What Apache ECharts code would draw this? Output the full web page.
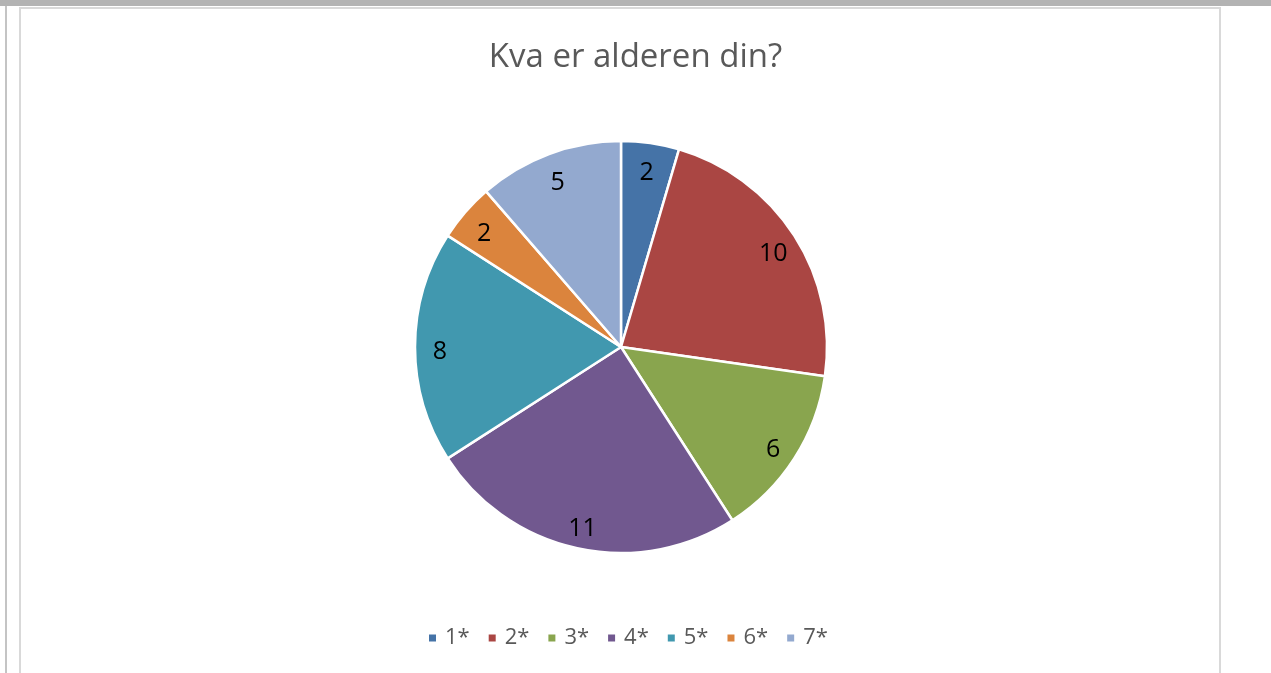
<!DOCTYPE html>
<html>
<head>
<meta charset="utf-8">
<script src="https://cdn.jsdelivr.net/npm/echarts@6/dist/echarts.min.js"></script>
<style>
  html, body { margin: 0; padding: 0; background: #fff; }
  #chart { width: 1271px; height: 673px; }
</style>
</head>
<body>
<div id="chart"></div>
<script>
// alder-fordeling
var categories = ['1*', '2*', '3*', '4*', '5*', '6*', '7*'];
var counts = [2, 10, 6, 11, 8, 2, 5];
var colors = ['#4573a7', '#aa4643', '#89a54e', '#71588f', '#4198af', '#db843d', '#93a9cf'];

var pieData = categories.map(function (name, i) {
    return { name: name, value: counts[i] };
});

var myChart = echarts.init(document.getElementById('chart'));

var option = {
    animation: false,
    color: colors,
    title: {
        text: 'Kva er alderen din?',
        left: 'center',
        top: 36,
        textStyle: {
            fontFamily: 'Open Sans',
            fontSize: 33,
            fontWeight: 'normal',
            color: '#595959'
        }
    },
    legend: {
        data: categories,
        top: 622,
        left: 422,
        icon: 'rect',
        itemWidth: 9,
        itemHeight: 9,
        itemGap: 17,
        textStyle: {
            fontFamily: 'Open Sans',
            fontSize: 22,
            color: '#595959',
            padding: [0, 0, 0, 3]
        }
    },
    graphic: [
        // grå stripe øverst
        { type: 'rect', shape: { x: 0, y: 0, width: 1271, height: 6 }, style: { fill: '#b3b3b3' } },
        { type: 'rect', shape: { x: 5, y: 6, width: 2, height: 667 }, style: { fill: '#c4c4c4' } },
        // ramme rundt diagrammet
        { type: 'rect', shape: { x: 19, y: 7, width: 1202, height: 2 }, style: { fill: '#d9d9d9' } },
        { type: 'rect', shape: { x: 19, y: 7, width: 2, height: 666 }, style: { fill: '#d9d9d9' } },
        { type: 'rect', shape: { x: 1219, y: 7, width: 2, height: 666 }, style: { fill: '#d9d9d9' } }
    ],
    series: [
        {
            name: 'Alder',
            type: 'pie',
            center: [621, 347],
            radius: [0, 206],
            startAngle: 90,
            clockwise: true,
            label: { show: false },
            labelLine: { show: false },
            itemStyle: { borderColor: '#fff', borderWidth: 2.5 },
            emphasis: { disabled: true },
            data: pieData
        },
        {
            // usynleg ring berre for plassering av tal
            name: 'Etikett',
            type: 'pie',
            center: [621, 347],
            radius: [150, 206],
            startAngle: 90,
            clockwise: true,
            silent: true,
            itemStyle: { color: 'rgba(0,0,0,0)', borderWidth: 0 },
            label: {
                show: true,
                position: 'inside',
                formatter: '{c}',
                fontFamily: 'Open Sans',
                fontSize: 25,
                color: '#000'
            },
            labelLayout: { dy: 5 },
            labelLine: { show: false },
            emphasis: { disabled: true },
            data: pieData
        }
    ]
};

myChart.setOption(option);
</script>
</body>
</html>
